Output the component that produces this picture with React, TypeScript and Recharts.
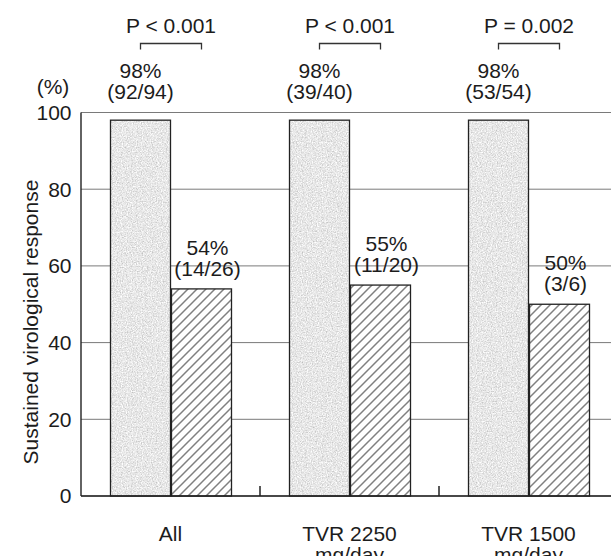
import React from "react";
import {
  BarChart,
  Bar,
  XAxis,
  YAxis,
  CartesianGrid,
  LabelList,
} from "recharts";

// ---- data ----
const categoryLines: string[][] = [["All"], ["TVR 2250", "mg/day"], ["TVR 1500", "mg/day"]];
const svrHigh = [98, 98, 98];
const svrLow = [54, 55, 50];
const highCounts = ["92/94", "39/40", "53/54"];
const lowCounts = ["14/26", "11/20", "3/6"];
const pValues = ["P < 0.001", "P < 0.001", "P = 0.002"];
const yTicks = [0, 20, 40, 60, 80, 100];
const yTitle = "Sustained virological response";
const yUnit = "(%)";

const data = categoryLines.map((lines, i) => ({
  name: lines.join(" "),
  high: svrHigh[i],
  low: svrLow[i],
}));

const FONT = "'Liberation Sans', Arial, Helvetica, sans-serif";
const INK = "#1c1c1c";
const FS = 21;

const GrayBar = (props: any) => {
  const { x, y, width, height } = props;
  return (
    <g>
      <rect x={x} y={y} width={width} height={height} fill="#d0d0d0" filter="url(#speckle)" />
      <rect x={x} y={y} width={width} height={height} fill="none" stroke="#222" strokeWidth={1.3} />
    </g>
  );
};

const HatchBar = (props: any) => {
  const { x, y, width, height } = props;
  return (
    <g>
      <rect x={x} y={y} width={width} height={height} fill="url(#hatch)" />
      <rect x={x} y={y} width={width} height={height} fill="none" stroke="#222" strokeWidth={1.3} />
    </g>
  );
};

const HighLabel = (props: any) => {
  const { x, y, width, index } = props;
  const cx = x + width / 2;
  return (
    <text x={cx} textAnchor="middle" fontFamily={FONT} fontSize={FS} fill={INK}>
      <tspan x={cx} y={y - 42}>{`${svrHigh[index]}%`}</tspan>
      <tspan x={cx} y={y - 21}>{`(${highCounts[index]})`}</tspan>
    </text>
  );
};

const LowLabel = (props: any) => {
  const { x, y, width, index } = props;
  const cx = x + width / 2 + 6;
  const left = x - 1 - width / 2;
  const right = x + width / 2;
  const mid = (left + right) / 2;
  return (
    <g>
      <text x={cx} textAnchor="middle" fontFamily={FONT} fontSize={FS} fill={INK}>
        <tspan x={cx} y={y - 34}>{`${svrLow[index]}%`}</tspan>
        <tspan x={cx} y={y - 13}>{`(${lowCounts[index]})`}</tspan>
      </text>
      <text x={mid} y={33} textAnchor="middle" fontFamily={FONT} fontSize={FS} fill={INK}>
        {pValues[index]}
      </text>
      <path
        d={`M${left},49.5 L${left},43.5 L${right},43.5 L${right},49.5`}
        fill="none"
        stroke="#333"
        strokeWidth={1.3}
      />
    </g>
  );
};

const XTick = (props: any) => {
  const { x, y, payload } = props;
  const idx = payload.index ?? 0;
  const lines = categoryLines[idx] || [String(payload.value)];
  const off = payload.offset ?? 0;
  return (
    <g>
      <line x1={x + off} x2={x + off} y1={y} y2={y - 10} stroke="#222" strokeWidth={1.5} />
      <text x={x} textAnchor="middle" fontFamily={FONT} fontSize={FS} fill={INK}>
        {lines.map((l, k) => (
          <tspan key={k} x={x} y={y + 44.5 + k * 21}>
            {l}
          </tspan>
        ))}
      </text>
    </g>
  );
};

const YTitle = () => (
  <g>
    <text
      x={38}
      y={322}
      transform="rotate(-90 38 322)"
      textAnchor="middle"
      fontFamily={FONT}
      fontSize={FS}
      fill={INK}
    >
      {yTitle}
    </text>
    <text x={53} y={94} textAnchor="middle" fontFamily={FONT} fontSize={FS} fill={INK}>
      {yUnit}
    </text>
  </g>
);

export default function App() {
  return (
    <div
      style={{
        position: "absolute",
        left: 0,
        top: 0,
        width: 611,
        height: 556,
        overflow: "hidden",
        background: "#fff",
      }}
    >
      <svg width={0} height={0} style={{ position: "absolute" }}>
        <defs>
          <filter id="speckle" x="0" y="0" width="100%" height="100%">
            <feTurbulence type="fractalNoise" baseFrequency="0.8" numOctaves="3" seed="4" result="n" />
            <feColorMatrix
              in="n"
              type="matrix"
              values="0.7 0 0 0 0.45  0.7 0 0 0 0.45  0.7 0 0 0 0.45  0 0 0 0 1"
              result="g"
            />
            <feComposite in="g" in2="SourceGraphic" operator="in" />
          </filter>
          <pattern id="hatch" patternUnits="userSpaceOnUse" width="9" height="9">
            <rect width="9" height="9" fill="#fff" />
            <path d="M0,9 L9,0 M-2,2 L2,-2 M7,11 L11,7" stroke="#808080" strokeWidth={1.5} />
          </pattern>
        </defs>
      </svg>
      <BarChart
        width={625}
        height={556}
        data={data}
        margin={{ top: 112.5, right: 7, bottom: 0, left: 0 }}
        barCategoryGap={29.5}
        barGap={1}
      >
        <CartesianGrid vertical={false} stroke="#7a7a7a" strokeWidth={1} />
        <XAxis
          dataKey="name"
          height={60}
          tickLine={false}
          tickSize={0}
          tickMargin={0}
          axisLine={{ stroke: "#222", strokeWidth: 1.6 }}
          tick={<XTick />}
          interval={0}
        />
        <YAxis
          width={81}
          domain={[0, 100]}
          ticks={yTicks}
          interval={0}
          tickLine={false}
          tickSize={0}
          tickMargin={9.5}
          axisLine={{ stroke: "#222", strokeWidth: 1.4 }}
          tick={{ fontFamily: FONT, fontSize: FS, fill: INK }}
          label={<YTitle />}
        />
        <Bar dataKey="high" shape={<GrayBar />} isAnimationActive={false}>
          <LabelList dataKey="high" content={<HighLabel />} />
        </Bar>
        <Bar dataKey="low" shape={<HatchBar />} isAnimationActive={false}>
          <LabelList dataKey="low" content={<LowLabel />} />
        </Bar>
      </BarChart>
    </div>
  );
}
